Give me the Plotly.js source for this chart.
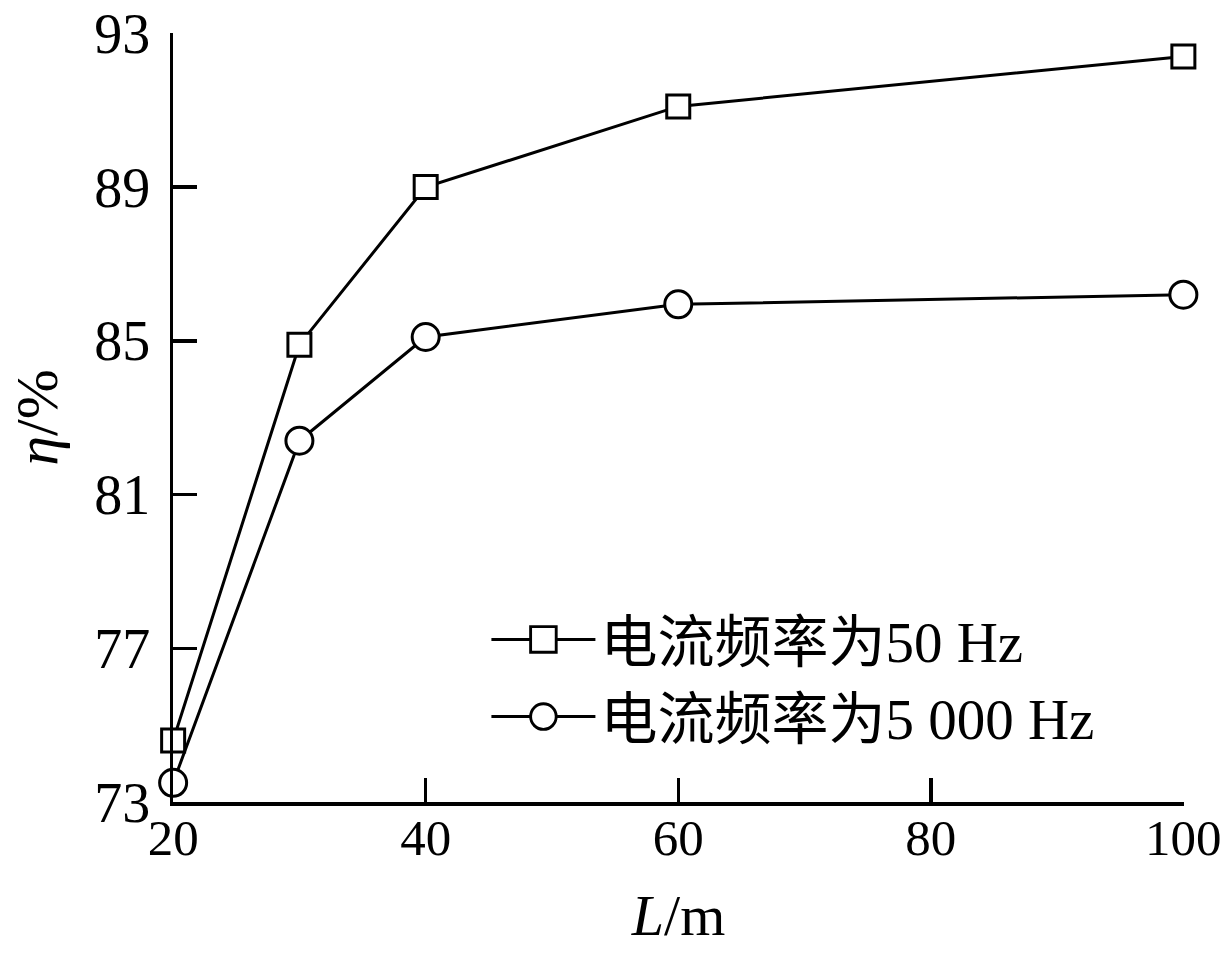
<!DOCTYPE html>
<html>
<head>
<meta charset="utf-8">
<script src="https://cdn.plot.ly/plotly-3.0.1.min.js"></script>
<style>html,body{margin:0;padding:0;background:#fff;}#chart{width:1223px;height:965px;}</style>
</head>
<body>
<div id="chart"></div>
<script>
const lengthM = [20, 30, 40, 60, 100];
const eta50Hz = [74.6, 84.9, 89.0, 91.1, 92.4];
const eta5000Hz = [73.5, 82.4, 85.1, 85.95, 86.2];
const seriesNames = ['电流频率为50 Hz', '电流频率为5 000 Hz'];
const xTicks = [20, 40, 60, 80, 100];
const yTicks = [73, 77, 81, 85, 89, 93];

const FONT = 'Liberation Serif, "Times New Roman", "Noto Sans CJK SC", serif';

const traces = [
  {
    x: lengthM, y: eta50Hz, name: seriesNames[0], type: 'scatter', mode: 'lines+markers',
    legendgroup: 'a',
    line: {color: '#000', width: 3},
    marker: {symbol: 'square', size: 23, color: '#fff', line: {color: '#000', width: 3}},
    cliponaxis: false
  },
  {
    x: lengthM, y: eta5000Hz, name: seriesNames[1], type: 'scatter', mode: 'lines+markers',
    legendgroup: 'b',
    line: {color: '#000', width: 3},
    marker: {symbol: 'circle', size: 27, color: '#fff', line: {color: '#000', width: 3}},
    cliponaxis: false
  }
];

const layout = {
  width: 1223, height: 965,
  margin: {l: 173, r: 39, t: 33, b: 163},
  paper_bgcolor: '#fff', plot_bgcolor: '#fff',
  font: {family: FONT, color: '#000', size: 52},
  showlegend: true,
  legend: {
    x: 0.31, y: 0.268, xanchor: 'left', yanchor: 'top',
    bgcolor: 'rgba(0,0,0,0)', borderwidth: 0,
    font: {family: FONT, size: 57, color: '#000'},
    traceorder: 'grouped', tracegroupgap: 0, itemwidth: 104
  },
  xaxis: {
    range: [19.99, 100.05], tickvals: xTicks, ticktext: xTicks.map(String),
    showgrid: false, zeroline: false, showline: true, linecolor: '#000', linewidth: 3.5,
    ticks: 'inside', ticklen: 24, tickwidth: 3.5, tickcolor: '#000',
    ticklabelstandoff: -12, ticklabeloverflow: 'allow',
    tickfont: {family: FONT, size: 51, color: '#000'},
    title: {text: '<i>L</i>/m', font: {family: FONT, size: 58, color: '#000'}, standoff: 30},
    automargin: false, fixedrange: true
  },
  yaxis: {
    range: [73, 93.01], tickvals: yTicks, ticktext: yTicks.map(String),
    showgrid: false, zeroline: false, showline: true, linecolor: '#000', linewidth: 3.5,
    ticks: 'inside', ticklen: 24, tickwidth: 3.5, tickcolor: '#000',
    ticklabelstandoff: 8, ticklabeloverflow: 'allow',
    tickfont: {family: FONT, size: 56, color: '#000'},
    title: {text: '<i>η</i>/%', font: {family: FONT, size: 60, color: '#000'}, standoff: 18},
    automargin: false, fixedrange: true
  }
};

Plotly.newPlot('chart', traces, layout, {displayModeBar: false, staticPlot: true}).then(function (gd) {
  // enlarge legend symbols to match the figure's marker size
  gd.querySelectorAll('.legend .legendpoints path').forEach(function (p) {
    const t = p.getAttribute('transform') || '';
    p.setAttribute('transform', t + ' scale(1.6)');
    p.style.strokeWidth = '1.8px';
  });
});
</script>
</body>
</html>
